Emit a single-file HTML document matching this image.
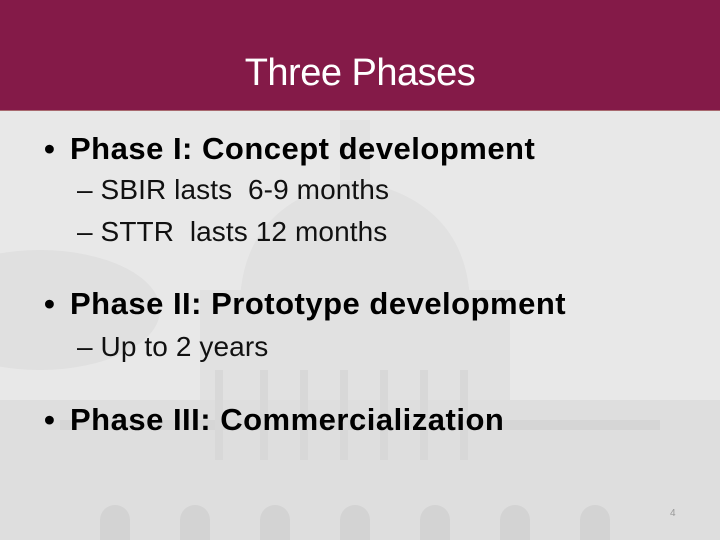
<!DOCTYPE html>
<html><head><meta charset="utf-8">
<style>
html,body{margin:0;padding:0}
body{width:720px;height:540px;position:relative;overflow:hidden;background:#e9e9e9;font-family:"Liberation Sans",Arial,sans-serif}
#bg{position:absolute;left:0;top:0}
#header{position:absolute;left:0;top:0;width:720px;height:110px;background:#841a48;border-bottom:1px solid #a8696f}
#title{position:absolute;left:0;top:51px;width:720px;text-align:center;color:#fff;font-size:38px;line-height:44px;letter-spacing:-0.5px}
.b{position:absolute;left:44px;font-weight:bold;font-size:31px;line-height:36px;letter-spacing:0.5px;color:#000;white-space:nowrap}
.b span.dot{display:inline-block;width:26px;letter-spacing:0}
.s{position:absolute;left:77px;font-size:28px;line-height:32px;letter-spacing:0.1px;color:#111;white-space:nowrap}
#pg{position:absolute;left:670px;top:508px;font-size:10px;color:#999}
</style></head><body>
<svg id="bg" width="720" height="540">
<rect x="0" y="110" width="720" height="430" fill="#e8e8e8"/>
<ellipse cx="40" cy="310" rx="120" ry="60" fill="#e0e0e0"/>
<path d="M240 300 Q245 200 355 180 Q465 200 470 300 Z" fill="#e1e1e1"/>
<rect x="340" y="120" width="30" height="60" fill="#e3e3e3"/>
<rect x="200" y="290" width="310" height="120" fill="#e1e1e1"/>
<rect x="0" y="400" width="720" height="140" fill="#dedede"/>
<rect x="60" y="420" width="600" height="10" fill="#d6d6d6"/>
<g fill="#d8d8d8">
<rect x="215" y="370" width="8" height="90"/><rect x="260" y="370" width="8" height="90"/><rect x="300" y="370" width="8" height="90"/><rect x="340" y="370" width="8" height="90"/><rect x="380" y="370" width="8" height="90"/><rect x="420" y="370" width="8" height="90"/><rect x="460" y="370" width="8" height="90"/>
</g>
<g fill="#d3d3d3">
<path d="M100 540 v-20 a15 15 0 0 1 30 0 v20z"/><path d="M180 540 v-20 a15 15 0 0 1 30 0 v20z"/><path d="M260 540 v-20 a15 15 0 0 1 30 0 v20z"/><path d="M340 540 v-20 a15 15 0 0 1 30 0 v20z"/><path d="M420 540 v-20 a15 15 0 0 1 30 0 v20z"/><path d="M500 540 v-20 a15 15 0 0 1 30 0 v20z"/><path d="M580 540 v-20 a15 15 0 0 1 30 0 v20z"/>
</g>
</svg>
<div id="header"></div>
<div id="title">Three Phases</div>
<div class="b" style="top:131px"><span class="dot">•</span>Phase I: Concept development</div>
<div class="s" style="top:174px">– SBIR lasts&nbsp; 6-9 months</div>
<div class="s" style="top:216px">– STTR&nbsp; lasts 12 months</div>
<div class="b" style="top:286px"><span class="dot">•</span>Phase II: Prototype development</div>
<div class="s" style="top:331px">– Up to 2 years</div>
<div class="b" style="top:402px"><span class="dot">•</span>Phase III: Commercialization</div>
<div id="pg">4</div>
</body></html>
